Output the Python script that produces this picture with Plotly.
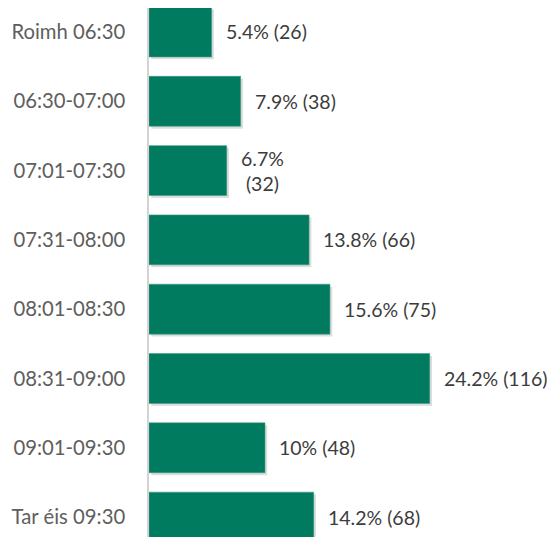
import plotly.graph_objects as go

categories = ["Roimh 06:30", "06:30-07:00", "07:01-07:30", "07:31-08:00",
              "08:01-08:30", "08:31-09:00", "09:01-09:30", "Tar éis 09:30"]
percent = [5.4, 7.9, 6.7, 13.8, 15.6, 24.2, 10, 14.2]
counts = [26, 38, 32, 66, 75, 116, 48, 68]
separators = [" ", " ", "<br>", " ", " ", " ", " ", " "]

labels = [f"{p:g}%{s}({c})" for p, c, s in zip(percent, counts, separators)]

GREEN = "#007b5f"
FONT = "Lato"
BAR_W = 0.72

fig = go.Figure()
# soft drop shadow
fig.add_trace(go.Bar(
    x=percent, y=categories, orientation="h", base=0.2,
    width=BAR_W, offset=-BAR_W / 2 + 0.035,
    marker=dict(color="rgba(0,0,0,0.13)", line=dict(width=0)),
    hoverinfo="skip",
))
fig.add_trace(go.Bar(
    x=percent, y=categories, orientation="h",
    width=BAR_W,
    marker=dict(color=GREEN, line=dict(color="#3f9a84", width=0.6)),
    hoverinfo="skip",
))

for p, cat, lab in zip(percent, categories, labels):
    fig.add_annotation(
        x=p, y=cat, text=lab, showarrow=False, xanchor="left", yanchor="middle",
        xshift=12, align="center",
        font=dict(family=FONT, size=19.5, color="#3c3c3c"),
    )

fig.update_layout(
    width=550, height=529,
    margin=dict(l=141, r=0, t=0, b=0),
    paper_bgcolor="white", plot_bgcolor="white",
    barmode="overlay", showlegend=False,
    font=dict(family=FONT),
)
fig.update_xaxes(range=[0, 35.26], visible=False, showgrid=False, zeroline=False)
fig.update_yaxes(
    type="category", range=[7.287, -0.346],
    showline=True, linecolor="#d3d3d3", linewidth=1.5,
    ticks="", ticklabelstandoff=18, showgrid=False, zeroline=False,
    tickfont=dict(family=FONT, size=20.3, color="#5e5e5e"),
)

fig.write_html("out.html")
